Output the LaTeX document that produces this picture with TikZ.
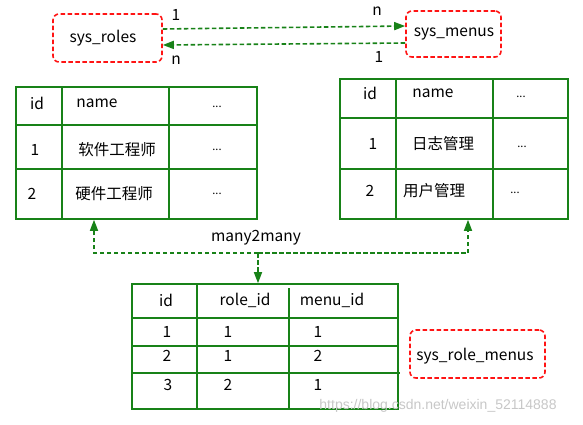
\documentclass[tikz,border=0pt]{standalone}
\usepackage{fontspec}
\setmainfont{Noto Sans CJK SC}
\newfontfamily\wmfont{Liberation Sans}
\usetikzlibrary{arrows.meta}
\definecolor{tgreen}{RGB}{24,130,24}
\definecolor{rred}{RGB}{255,20,20}
\begin{document}
\begin{tikzpicture}[x=1pt,y=-1pt,
  every node/.style={font=\fontsize{15.5}{18}\selectfont, inner sep=0pt},
  rbox/.style={draw=rred, line width=1.6pt, dash pattern=on 4.5pt off 2.5pt, rounded corners=6pt, inner sep=0pt},
  tbl/.style={draw=tgreen, line width=1.6pt, inner sep=0pt},
  tl/.style={draw=tgreen, line width=1.6pt},
  conn/.style={draw=tgreen, line width=1.6pt, dash pattern=on 4.5pt off 2.5pt, -{Triangle[length=11pt,width=8pt,fill=tgreen]}},
  dots/.style={font=\fontsize{11}{13}\selectfont}]
\useasboundingbox (0,0) rectangle (583,425);

% top boxes
\node[rbox, minimum width=109pt, minimum height=48pt] (roles) at (107.5,38) {};
\node (rolest) at (103,38) {sys\_roles};
\node[rbox, minimum width=95pt, minimum height=46pt] (menus) at (453.5,34) {};
\node (menust) at (454,34) {sys\_menus};

\draw[conn] ([yshift=9pt]roles.east) -- ([yshift=8pt]menus.west);
\draw[conn] ([yshift=-9pt]menus.west) -- ([yshift=-7pt]roles.east);
\node (la) at (176,15) {1};
\node (lb) at (377,11) {n};
\node (lc) at (176,60) {n};
\node (ld) at (379,57) {1};

% left table
\node[tbl, minimum width=241pt, minimum height=132pt] (roletbl) at (136.5,153) {};
\draw[tl] (62,87) -- (62,219);
\draw[tl] (169,87) -- (169,219);
\draw[tl] (16,125) -- (257,125);
\draw[tl] (16,169) -- (257,169);
\node (r0a) at (37,103) {id};
\node (r0b) at (97,103) {name};
\node[dots] (r0c) at (217,107) {...};
\node (r1a) at (35,150) {1};
\node (r1b) at (117,150) {软件工程师};
\node[dots] (r1c) at (217,150) {...};
\node (r2a) at (32,194) {2};
\node (r2b) at (114,194) {硬件工程师};
\node[dots] (r2c) at (217,194) {...};

% right table
\node[tbl, minimum width=228pt, minimum height=140pt] (menutbl) at (454,149) {};
\draw[tl] (396,79) -- (396,219);
\draw[tl] (493,79) -- (493,219);
\draw[tl] (340,118) -- (568,118);
\draw[tl] (340,169) -- (568,169);
\node (m0a) at (370,93) {id};
\node (m0b) at (433,93) {name};
\node[dots] (m0c) at (521,97) {...};
\node (m1a) at (373,144) {1};
\node (m1b) at (443,144) {日志管理};
\node[dots] (m1c) at (522,147) {...};
\node (m2a) at (370,191) {2};
\node (m2b) at (434,191) {用户管理};
\node[dots] (m2c) at (515,193) {...};

% bottom table
\node[tbl, minimum width=266pt, minimum height=125pt] (rmtbl) at (265,346.5) {};
\draw[tl] (197,284) -- (197,409);
\draw[tl] (289,288) -- (289,409);
\draw[tl] (132,318) -- (398,318);
\draw[tl] (132,346) -- (398,346);
\draw[tl] (132,373) -- (400,373);
\node (b0a) at (166,300) {id};
\node (b0b) at (245,300) {role\_id};
\node (b0c) at (332,300) {menu\_id};
\node (b1a) at (167,332) {1};
\node (b1b) at (228,332) {1};
\node (b1c) at (318,332) {1};
\node (b2a) at (167,356) {2};
\node (b2b) at (228,356) {1};
\node (b2c) at (318,356) {2};
\node (b3a) at (168,385) {3};
\node (b3b) at (228,385) {2};
\node (b3c) at (318,385) {1};

\node[rbox, minimum width=135pt, minimum height=48pt] (rmbox) at (477.5,354) {};
\node (rmt) at (475,356) {sys\_role\_menus};

% many2many connectors
\coordinate (j) at (258,253);
\node (m2m) at (256,238) {many2many};
\draw[conn] (j) -| ([xshift=-42.5pt]roletbl.south);
\draw[conn] (j) -| ([xshift=14pt]menutbl.south);
\draw[conn] (j) -- (j |- rmtbl.north);

% watermark
\node[font=\wmfont\fontsize{14}{16}\selectfont, text=black!22] (wm) at (438,406) {https://blog.csdn.net/weixin\_52114888};
\end{tikzpicture}
\end{document}
